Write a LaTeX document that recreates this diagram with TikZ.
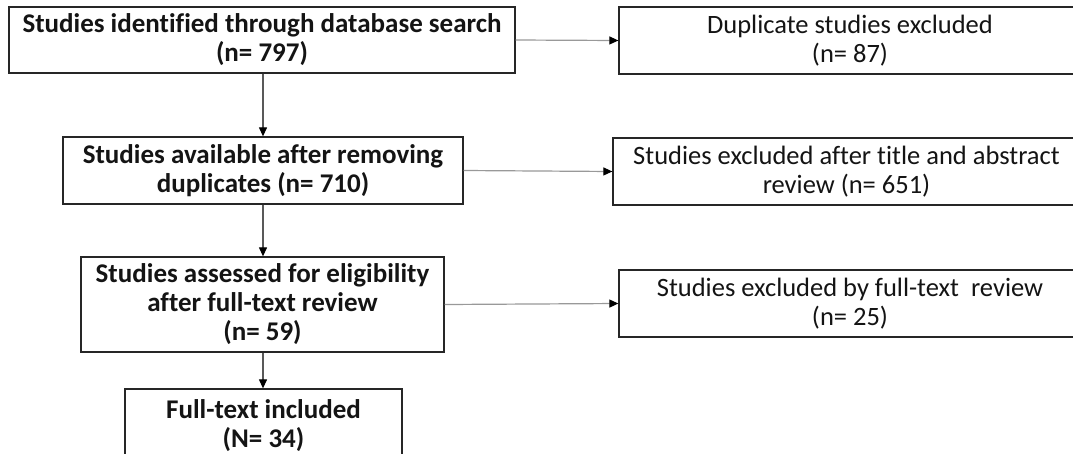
\documentclass[tikz,border=0pt]{standalone}
\usepackage{fontspec}
\setmainfont{Carlito}[Ligatures=NoCommon]
\usetikzlibrary{arrows.meta}
\begin{document}
\begin{tikzpicture}[x=1pt,y=-1pt,
  box/.style={draw=black!85, line width=1.3pt, align=center, inner sep=0pt,
    font=\fontsize{26.5}{29}\selectfont, text=black!92},
  lbox/.style={box, font=\fontsize{27}{29}\selectfont\bfseries},
  hconn/.style={draw=black!40, line width=1.2pt, arrows={-{Triangle[length=9pt,width=8pt,color=black]}}},
  vconn/.style={draw=black!65, line width=1.2pt, arrows={-{Triangle[length=9pt,width=8pt,color=black]}}}]
\useasboundingbox (0,0) rectangle (1073,453);
\clip (0,0) rectangle (1073,453);
\fill[white] (0,0) rectangle (1073,453);
% left column
\node[lbox, minimum width=506pt, minimum height=66pt] (b1) at (262,40)
  {Studies identified through database search\\(n= 797)};
\node[lbox, minimum width=400pt, minimum height=67pt] (b2) at (263,170.5)
  {Studies available after removing\\duplicates (n= 710)};
\node[lbox, minimum width=363pt, minimum height=95pt] (b3) at (262.5,304.5)
  {Studies assessed for eligibility\\after full-text review\\(n= 59)};
\node[lbox, minimum width=277pt, minimum height=73pt] (b4) at (263.5,425.5)
  {Full-text included\\(N= 34)};
% right column
\node[box, minimum width=462pt, minimum height=67pt] (r1) at (850,40.5)
  {Duplicate studies excluded\\(n= 87)};
\node[box, minimum width=467pt, minimum height=67pt] (r2) at (846.5,171.5)
  {Studies excluded after title and abstract\\review (n= 651)};
\node[box, minimum width=462pt, minimum height=67pt] (r3) at (850,303.5)
  {Studies excluded by full-text\ \ review\\(n= 25)};
% connectors
\draw[hconn] (b1.east) -- (r1.west);
\draw[hconn] (b2.east) -- (r2.west);
\draw[hconn] (b3.east) -- (r3.west);
\draw[vconn] (b2.north |- b1.south) -- (b2.north);
\draw[vconn] (b2.south) -- (b2.south |- b3.north);
\draw[vconn] (b2.south |- b3.south) -- (b2.south |- b4.north);
\end{tikzpicture}
\end{document}
